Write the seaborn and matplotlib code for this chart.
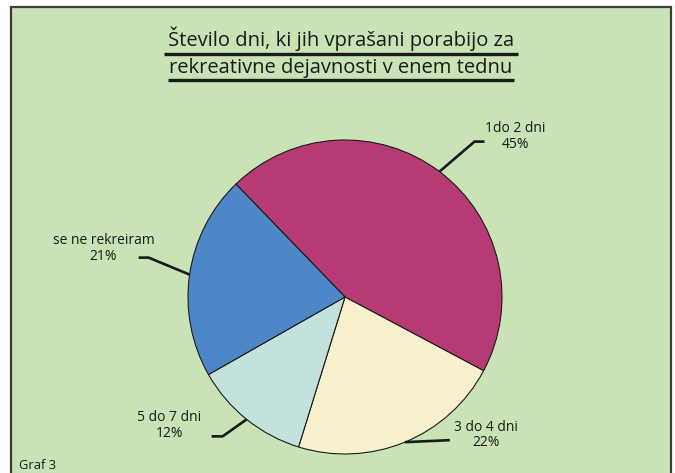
import numpy as np
import matplotlib
matplotlib.use("Agg")
import matplotlib.pyplot as plt
import seaborn as sns
from matplotlib.patches import Rectangle

# data
labels = ["1do 2 dni", "3 do 4 dni", "5 do 7 dni", "se ne rekreiram"]
shares = [45, 22, 12, 21]
colors = ["#B83A74", "#F8F0CC", "#C3E2DD", "#4D87C7"]
title_lines = ["Število dni, ki jih vprašani porabijo za",
               "rekreativne dejavnosti v enem tednu"]
caption = "Graf 3"

sns.set_style("white")
plt.rcParams["font.family"] = ["Open Sans", "DejaVu Sans"]

W, H = 675, 473
fig = plt.figure(figsize=(W / 100, H / 100), dpi=100)
ax = fig.add_axes([0, 0, 1, 1])
ax.set_xlim(0, W)
ax.set_ylim(0, H)
ax.axis("off")

def py(y):
    # pixel row (from top) to data y
    return H - y

bg = "#C9E3B7"
ax.add_patch(Rectangle((11, py(480)), 660, 480 - 7, facecolor=bg,
                       edgecolor="#3c3c3c", linewidth=1.6, zorder=0))

cx, cy, r = 345, py(297), 157
start = 134
wedges, _ = ax.pie(shares, colors=colors, startangle=start, counterclock=False,
                   center=(cx, cy), radius=r, frame=True,
                   wedgeprops=dict(edgecolor="#1a1a1a", linewidth=0.8))
ax.set_xlim(0, W)
ax.set_ylim(0, H)
ax.axis("off")

# label layout: elbow offset, end offset, text position (relative to edge point)
layout = {
    "1do 2 dni": dict(elbow=(35, 30), end=(45, 30), text=(76, 35)),
    "3 do 4 dni": dict(elbow=(45, 2), end=(45, 2), text=(81, 7)),
    "5 do 7 dni": dict(elbow=(-24, -17), end=(-35, -17), text=(-77, -6)),
    "se ne rekreiram": dict(elbow=(-41, 17), end=(-51, 17), text=(-86, 26)),
}

for w, lab, val in zip(wedges, labels, shares):
    mid = np.deg2rad((w.theta1 + w.theta2) / 2)
    ex, ey = cx + r * np.cos(mid), cy + r * np.sin(mid)
    L = layout[lab]
    xs = [ex, ex + L["elbow"][0], ex + L["end"][0]]
    ys = [ey, ey + L["elbow"][1], ey + L["end"][1]]
    ax.plot(xs, ys, color="#1a1a1a", linewidth=1.9, solid_capstyle="butt", zorder=3)
    ax.text(ex + L["text"][0], ey + L["text"][1], f"{lab}\n{val}%",
            ha="center", va="center", fontsize=10, color="#1a1a1a",
            linespacing=1.05, zorder=4)

# title with underlines
title_y = [py(46), py(73)]
under = [(164, 518, py(54)), (168, 514, py(80))]
for t, ty in zip(title_lines, title_y):
    ax.text(341, ty, t, ha="center", va="baseline", fontsize=14.5, color="#1a1a1a")
for x0, x1, uy in under:
    ax.plot([x0, x1], [uy, uy], color="#1a1a1a", linewidth=2.4, solid_capstyle="butt")

ax.text(19, py(465), caption, ha="left", va="center", fontsize=9.3, color="#1a1a1a")

fig.savefig("out.png", dpi=100, facecolor="white")
